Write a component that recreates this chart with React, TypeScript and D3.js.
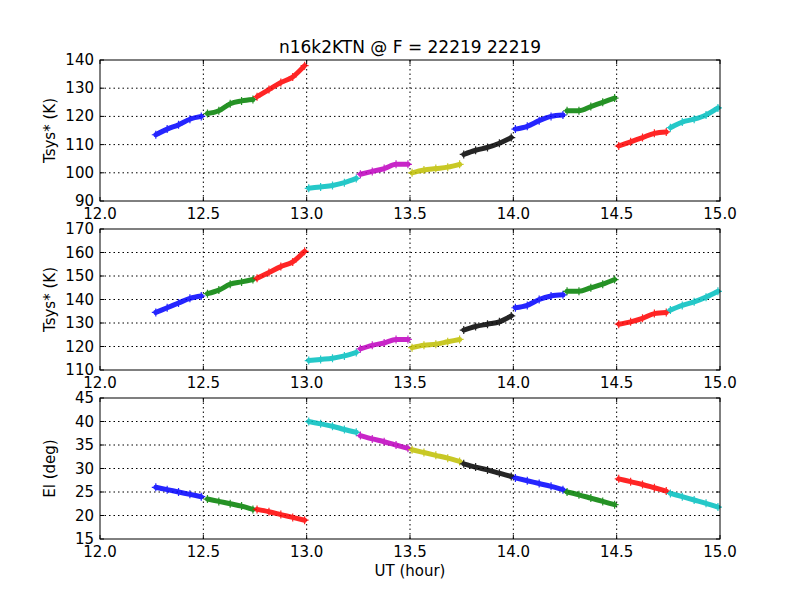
import * as d3 from 'd3';

// segment time ranges (UT hour) and colours
const segStart = [12.27, 12.52, 12.76, 13.01, 13.26, 13.51, 13.76, 14.01, 14.26, 14.51, 14.76];
const segEnd = [12.49, 12.74, 12.99, 13.24, 13.49, 13.74, 13.99, 14.24, 14.49, 14.74, 14.99];
const segColors = ['#0000ff', '#008000', '#ff0000', '#00bfbf', '#bf00bf', '#bfbf00', '#000000', '#0000ff', '#008000', '#ff0000', '#00bfbf'];

const tsys1 = [
  [113.5, 115.5, 117, 119, 120],
  [121, 122, 124.5, 125.5, 126],
  [127, 129.5, 132, 134, 138],
  [94.5, 95, 95.5, 96.5, 98],
  [99.5, 100.5, 101.5, 103, 103],
  [100, 101, 101.5, 102, 103],
  [106.5, 108, 109, 110.5, 112.5],
  [115.5, 116.5, 118.5, 120, 120.5],
  [122, 122, 123.5, 125, 126.5],
  [109.5, 111, 112.5, 114, 114.5],
  [116, 118, 119, 120.5, 123],
];
const tsys2 = [
  [134.5, 136.5, 138.5, 140.5, 141.5],
  [142.5, 144, 146.5, 147.5, 148.5],
  [149, 151.5, 154, 156, 160.5],
  [114, 114.5, 115, 116, 117.5],
  [119, 120.5, 121.5, 123, 123],
  [119.5, 120.5, 121, 122, 123],
  [127, 128.5, 129.5, 130.5, 133],
  [136.5, 137.5, 140, 141.5, 142],
  [143.5, 143.5, 145, 146.5, 148.5],
  [129.5, 130.5, 132, 134, 134.5],
  [135.5, 137.5, 139, 141, 143.5],
];
const elev = [
  [26, 25.5, 25, 24.5, 24],
  [23.5, 23, 22.5, 22, 21.3],
  [21.3, 20.8, 20.2, 19.6, 19],
  [40, 39.5, 39, 38.3, 37.7],
  [37, 36.3, 35.7, 35, 34.3],
  [34, 33.4, 32.8, 32.2, 31.5],
  [31, 30.3, 29.7, 29, 28.3],
  [28, 27.4, 26.8, 26.2, 25.5],
  [25, 24.4, 23.7, 23, 22.3],
  [27.8, 27.2, 26.6, 25.9, 25.2],
  [24.7, 24, 23.3, 22.6, 21.8],
];

const xTicks = [12.0, 12.5, 13.0, 13.5, 14.0, 14.5, 15.0];

const panels = [
  { top: 60, data: tsys1, domain: [90, 140], ticks: d3.range(90, 141, 10), label: 'Tsys* (K)' },
  { top: 229, data: tsys2, domain: [110, 170], ticks: d3.range(110, 171, 10), label: 'Tsys* (K)' },
  { top: 398, data: elev, domain: [15, 45], ticks: d3.range(15, 46, 5), label: 'El (deg)' },
];

const left = 100, right = 720, ph = 141;
const font = 'DejaVu Sans, sans-serif';

export default function App() {
  const x = d3.scaleLinear().domain([12, 15]).range([left, right]);
  return (
    <svg width={800} height={600} style={{ display: 'block', margin: -8 }} fontFamily={font}>
      <rect width={800} height={600} fill="#fff" />
      <text x={410} y={53} textAnchor="middle" fontSize={17}>n16k2KTN @ F = 22219 22219</text>
      {panels.map((p, pi) => {
        const y = d3.scaleLinear().domain(p.domain).range([p.top + ph, p.top]);
        const line = d3.line<number[]>().x((d) => d[0]).y((d) => d[1]).curve(d3.curveMonotoneX);
        return (
          <g key={pi}>
            {xTicks.slice(1, -1).map((t) => (
              <line key={'gx' + t} x1={x(t)} x2={x(t)} y1={p.top} y2={p.top + ph} stroke="#000" strokeDasharray="1.5,3" />
            ))}
            {p.ticks.slice(1, -1).map((t) => (
              <line key={'gy' + t} x1={left} x2={right} y1={y(t)} y2={y(t)} stroke="#000" strokeDasharray="1.5,3" />
            ))}
            {p.data.map((vals, si) => {
              const xs = d3.scaleLinear().domain([0, vals.length - 1]).range([segStart[si], segEnd[si]]);
              const pts = vals.map((v, i) => [x(xs(i)), y(v)]);
              return (
                <g key={si} stroke={segColors[si]} opacity={0.85}>
                  <path d={line(pts) || ''} fill="none" strokeWidth={5} strokeLinecap="round" />
                  {pts.map((q, i) => (
                    <path key={i} d={`M${q[0] - 4},${q[1]}h8M${q[0]},${q[1] - 4}v8`} strokeWidth={1.2} />
                  ))}
                </g>
              );
            })}
            <rect x={left} y={p.top} width={right - left} height={ph} fill="none" stroke="#000" strokeWidth={1} />
            {xTicks.map((t) => (
              <g key={'tx' + t}>
                <line x1={x(t)} x2={x(t)} y1={p.top + ph} y2={p.top + ph - 4} stroke="#000" />
                <line x1={x(t)} x2={x(t)} y1={p.top} y2={p.top + 4} stroke="#000" />
                <text x={x(t)} y={p.top + ph + 18} textAnchor="middle" fontSize={15}>{t.toFixed(1)}</text>
              </g>
            ))}
            {p.ticks.map((t) => (
              <g key={'ty' + t}>
                <line x1={left} x2={left + 4} y1={y(t)} y2={y(t)} stroke="#000" />
                <line x1={right} x2={right - 4} y1={y(t)} y2={y(t)} stroke="#000" />
                <text x={left - 6} y={y(t) + 5} textAnchor="end" fontSize={15}>{t}</text>
              </g>
            ))}
            <text transform={`translate(55,${p.top + ph / 2}) rotate(-90)`} textAnchor="middle" fontSize={15}>{p.label}</text>
          </g>
        );
      })}
      <text x={410} y={576} textAnchor="middle" fontSize={15}>UT (hour)</text>
    </svg>
  );
}
